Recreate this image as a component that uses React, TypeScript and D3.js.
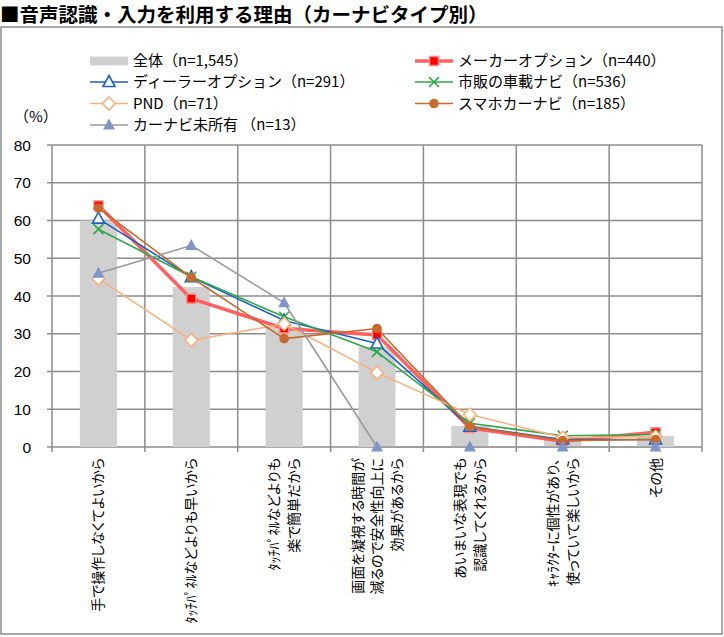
import * as d3 from "d3";

// categories (rotated labels are split into lines as in the source)
const categories = ["c1", "c2", "c3", "c4", "c5", "c6", "c7"];
const categoryLines: string[][] = [
  ["手で操作しなくてよいから"],
  ["ﾀｯﾁﾊﾟﾈﾙなどよりも早いから"],
  ["ﾀｯﾁﾊﾟﾈﾙなどよりも", "楽で簡単だから"],
  ["画面を凝視する時間が", "減るので安全性向上に", "効果があるから"],
  ["あいまいな表現でも", "認識してくれるから"],
  ["ｷｬﾗｸﾀｰに個性があり、", "使っていて楽しいから"],
  ["その他"],
];

// values (%)
const total = [60.0, 42.4, 31.8, 26.5, 5.6, 2.5, 2.9];
const makerOption = [64.0, 39.3, 31.4, 29.7, 5.0, 1.5, 3.9];
const dealerOption = [60.5, 45.0, 33.5, 27.4, 5.4, 2.0, 2.0];
const marketNavi = [57.7, 45.1, 34.5, 25.2, 6.3, 3.0, 3.3];
const pnd = [44.6, 28.3, 32.6, 19.7, 8.6, 2.5, 2.7];
const smartNavi = [63.3, 44.9, 28.7, 31.4, 5.4, 1.7, 2.0];
const noNavi = [46.0, 53.4, 38.2, 0, 0, 0, 0];

const yTicks = [0, 10, 20, 30, 40, 50, 60, 70, 80];

const jp = '"Noto Sans CJK JP", "Noto Sans", sans-serif';
const latin = '"Liberation Sans", Arial, sans-serif';

type Shape = "square" | "triOpen" | "cross" | "diamond" | "circle" | "triFill";

const series = [
  { name: "メーカーオプション（n=440）", values: makerOption, color: "#FF5F5F", width: 3.5, shape: "square" as Shape },
  { name: "ディーラーオプション（n=291）", values: dealerOption, color: "#1F60BF", width: 1.6, shape: "triOpen" as Shape },
  { name: "市販の車載ナビ（n=536）", values: marketNavi, color: "#2BA84A", width: 1.6, shape: "cross" as Shape },
  { name: "PND（n=71）", values: pnd, color: "#F9B07C", width: 1.6, shape: "diamond" as Shape },
  { name: "スマホカーナビ（n=185）", values: smartNavi, color: "#C96A2D", width: 1.6, shape: "circle" as Shape },
  { name: "カーナビ未所有 （n=13）", values: noNavi, color: "#9A9A9A", width: 1.6, shape: "triFill" as Shape },
];

const Marker = ({ shape, color, x, y }: { shape: Shape; color: string; x: number; y: number }) => {
  if (shape === "square")
    return <rect x={x - 4.5} y={y - 4.5} width={9} height={9} fill="#FF0000" stroke="#FF8C8C" strokeWidth={1.5} />;
  if (shape === "triOpen")
    return <path d={`M${x},${y - 6.5}L${x + 6},${y + 4.5}L${x - 6},${y + 4.5}Z`} fill="#fff" stroke={color} strokeWidth={1.6} />;
  if (shape === "cross")
    return <path d={`M${x - 5},${y - 5}L${x + 5},${y + 5}M${x + 5},${y - 5}L${x - 5},${y + 5}`} stroke={color} strokeWidth={1.6} />;
  if (shape === "diamond")
    return <path d={`M${x},${y - 6.5}L${x + 6.5},${y}L${x},${y + 6.5}L${x - 6.5},${y}Z`} fill="#fff" stroke={color} strokeWidth={1.6} />;
  if (shape === "circle") return <circle cx={x} cy={y} r={4.8} fill={color} />;
  return <path d={`M${x},${y - 6.5}L${x + 6},${y + 4.5}L${x - 6},${y + 4.5}Z`} fill="#7F95C9" />;
};

export default function App() {
  const W = 724;
  const H = 637;
  const x = d3.scaleBand<string>().domain(categories).range([52, 702]);
  const y = d3.scaleLinear().domain([0, 80]).range([447, 145]);
  const cx = (i: number) => (x(categories[i]) as number) + x.bandwidth() / 2;
  const bw = x.bandwidth() * 0.4;
  const line = d3
    .line<number>()
    .x((_, i) => cx(i))
    .y((d) => y(d));
  const grid = "#8C8C8C";

  const legendLeft = [
    { label: "全体（n=1,545）", s: null as any },
    { label: series[1].name, s: series[1] },
    { label: series[3].name, s: series[3] },
    { label: series[5].name, s: series[5] },
  ];
  const legendRight = [
    { label: series[0].name, s: series[0] },
    { label: series[2].name, s: series[2] },
    { label: series[4].name, s: series[4] },
  ];
  const rowY = [61, 82, 103.5, 125];

  const legendItem = (item: { label: string; s: any }, i: number, x0: number) => (
    <g key={item.label}>
      {item.s ? (
        <>
          <line x1={x0} x2={x0 + 38} y1={rowY[i]} y2={rowY[i]} stroke={item.s.color} strokeWidth={item.s.width} />
          <Marker shape={item.s.shape} color={item.s.color} x={x0 + 19} y={rowY[i]} />
        </>
      ) : (
        <rect x={x0} y={rowY[i] - 4.5} width={38} height={9} fill="#D0D0D0" />
      )}
      <text x={x0 + 43} y={rowY[i]} dy="0.36em" fontFamily={jp} fontSize={15} fill="#000">
        {item.label}
      </text>
    </g>
  );

  return (
    <div style={{ position: "absolute", left: 0, top: 0 }}>
      <svg width={W} height={H} style={{ display: "block", background: "#fff" }}>
        <text x={0} y={22} fontFamily={jp} fontWeight="bold" fontSize={19.5} fill="#000">
          ■音声認識・入力を利用する理由（カーナビタイプ別）
        </text>
        <rect x={1} y={27} width={721} height={607} fill="#fff" stroke={grid} strokeWidth={1.5} />

        {/* gridlines */}
        {yTicks.map((t) => (
          <g key={t}>
            <line x1={47} x2={702} y1={y(t)} y2={y(t)} stroke={grid} strokeWidth={1.5} />
            <text x={31} y={y(t)} dy="0.36em" textAnchor="end" fontFamily={latin} fontSize={15.5} fill="#000">
              {t}
            </text>
          </g>
        ))}
        {categories.map((c) => (
          <line key={c} x1={x(c)} x2={x(c)} y1={y(80)} y2={452} stroke={grid} strokeWidth={1.5} />
        ))}
        <line x1={702} x2={702} y1={y(80)} y2={452} stroke={grid} strokeWidth={1.5} />
        <text x={14} y={117} dy="0.36em" fontFamily={jp} fontSize={15} fill="#000">
          （%）
        </text>

        {/* bars */}
        {total.map((v, i) => (
          <rect key={i} x={cx(i) - bw / 2} y={y(v)} width={bw} height={y(0) - y(v)} fill="#D0D0D0" />
        ))}

        {/* lines */}
        {series.map((s) => (
          <g key={s.name}>
            <path d={line(s.values) as string} fill="none" stroke={s.color} strokeWidth={s.width} strokeLinejoin="round" />
            {s.values.map((v, i) => (
              <Marker key={i} shape={s.shape} color={s.color} x={cx(i)} y={y(v)} />
            ))}
          </g>
        ))}

        {/* x labels */}
        {categoryLines.map((lines, i) =>
          lines.map((ln, j) => {
            const lx = cx(i) + (j - (lines.length - 1) / 2) * 19.5;
            return (
              <text
                key={i + "-" + j}
                transform={`translate(${lx},458) rotate(-90)`}
                textAnchor="end"
                dy="0.36em"
                fontFamily={jp}
                fontSize={14}
                style={{ fontFeatureSettings: '"palt"' }}
                fill="#000"
              >
                {ln}
              </text>
            );
          })
        )}

        {legendLeft.map((it, i) => legendItem(it, i, 90))}
        {legendRight.map((it, i) => legendItem(it, i, 415))}
      </svg>
    </div>
  );
}
